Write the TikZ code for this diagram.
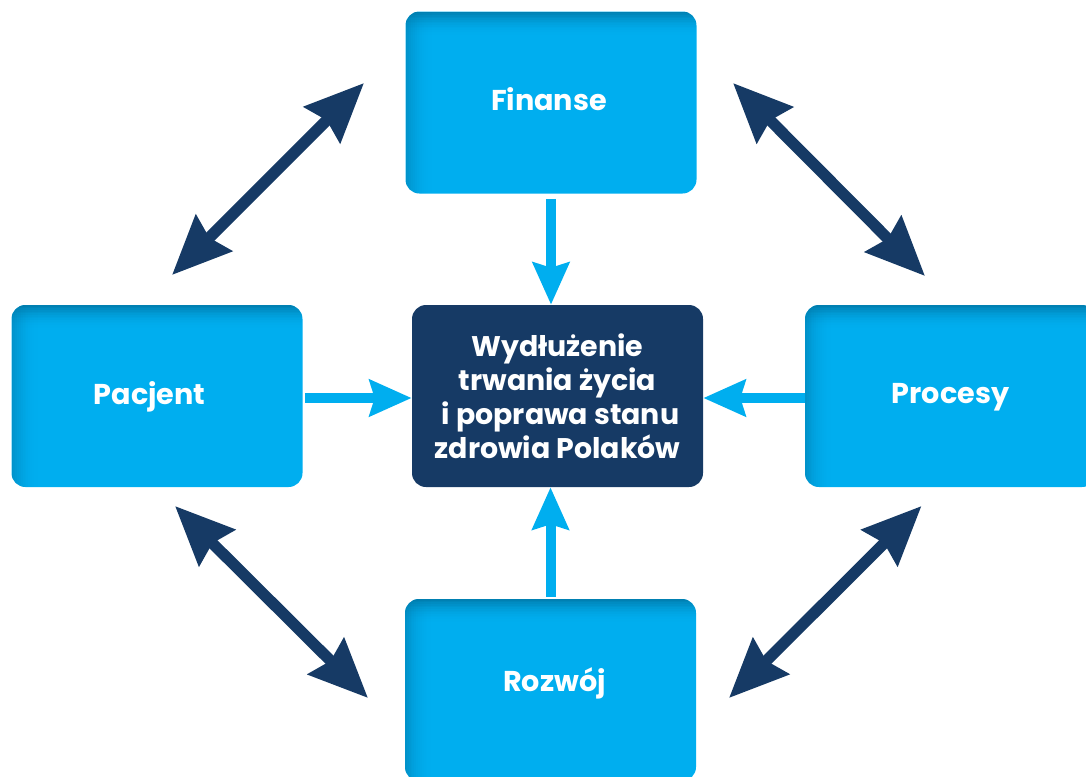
\documentclass[tikz,border=0pt]{standalone}
\usepackage{fontspec}
\setmainfont{Poppins}
\usetikzlibrary{arrows.meta}

\definecolor{cyanbox}{HTML}{00AEEF}
\definecolor{cyanshade}{HTML}{00719E}
\definecolor{navy}{HTML}{163A65}

% soft inner shade along the top and left edges, built from thin translucent strips
\newcommand{\innershade}{%
  \foreach \i in {0,...,13}{%
    \pgfmathsetmacro{\op}{0.75*(1-\i/14)^2}%
    \fill[cyanshade, sharp corners, fill opacity=\op]
      ([yshift=-\i*1.25pt]path picture bounding box.north west) rectangle
      ([yshift=-(\i+1)*1.25pt]path picture bounding box.north east);
    \pgfmathsetmacro{\ol}{0.45*(1-\i/14)^2}%
    \fill[cyanshade, sharp corners, fill opacity=\ol]
      ([xshift=\i*1.4pt]path picture bounding box.north west) rectangle
      ([xshift=(\i+1)*1.4pt]path picture bounding box.south west);
  }%
}

\tikzset{
  boxtext/.style={text=white, font=\bfseries\fontsize{21.5}{26}\selectfont},
  cbox/.style={rounded corners=10.5pt, fill=cyanbox, draw=none,
    minimum width=218.25pt, minimum height=136.5pt, inner sep=0pt,
    path picture={\innershade}},
  goalbox/.style={rounded corners=10.5pt, fill=navy, draw=none,
    minimum width=218.25pt, minimum height=136.5pt, inner sep=0pt,
    text=white, align=center,
    font=\bfseries\fontsize{21.3}{25.5}\selectfont},
  feed/.style={draw=cyanbox, line width=7.5pt,
    -{Stealth[length=31.5pt, width=27pt, inset=3.75pt]}},
  link/.style={draw=navy, line width=8.5pt,
    {Stealth[length=44pt, width=37.5pt, inset=4.5pt]}-{Stealth[length=44pt, width=37.5pt, inset=4.5pt]}}
}

\begin{document}
\begin{tikzpicture}[x=0.75pt, y=-0.75pt]
\useasboundingbox (0,0) rectangle (1086,776);
\clip (0,0) rectangle (1086,776);

% end points of the links between neighbouring areas
\coordinate (tl1) at (172,275);   \coordinate (tl2) at (364,83);
\coordinate (tr1) at (733,83);    \coordinate (tr2) at (925,276);
\coordinate (bl1) at (175,506);   \coordinate (bl2) at (368,698);
\coordinate (br1) at (921.5,506); \coordinate (br2) at (729,698);

% the goal in the middle
\node[goalbox] (goal) at (557.5,396)
  {Wydłużenie\\trwania życia\\\ i poprawa stanu\\zdrowia Polaków};

% the four areas
\node[cbox, label={[boxtext, xshift=-1.5pt, yshift=2.75pt]center:Finanse}] (fin) at (551,102.5) {};
\node[cbox, label={[boxtext, xshift=-5.5pt, yshift=-0.75pt]center:Pacjent}] (pac) at (157,396) {};
\node[cbox, label={[boxtext, xshift=0pt, yshift=-0.75pt]center:Procesy}] (pro) at (950.5,396) {};
\node[cbox, label={[boxtext, xshift=3pt, yshift=5pt]center:Rozwój}] (roz) at (550.5,690) {};

% contributions towards the goal
\draw[feed, shorten <=3.75pt] (fin.south) -- (fin.south |- goal.north);
\draw[feed, shorten <=1.5pt] ([yshift=-1.5pt]pac.east) -- ([yshift=-1.5pt]goal.west);
\draw[feed] ([yshift=-1.5pt]pro.west) -- ([yshift=-1.5pt]goal.east);
\draw[feed, shorten <=1.5pt] (roz.north) -- (roz.north |- goal.south);

\draw[link] (tl1) -- (tl2);
\draw[link] (tr1) -- (tr2);
\draw[link] (bl1) -- (bl2);
\draw[link] (br1) -- (br2);
\end{tikzpicture}
\end{document}
